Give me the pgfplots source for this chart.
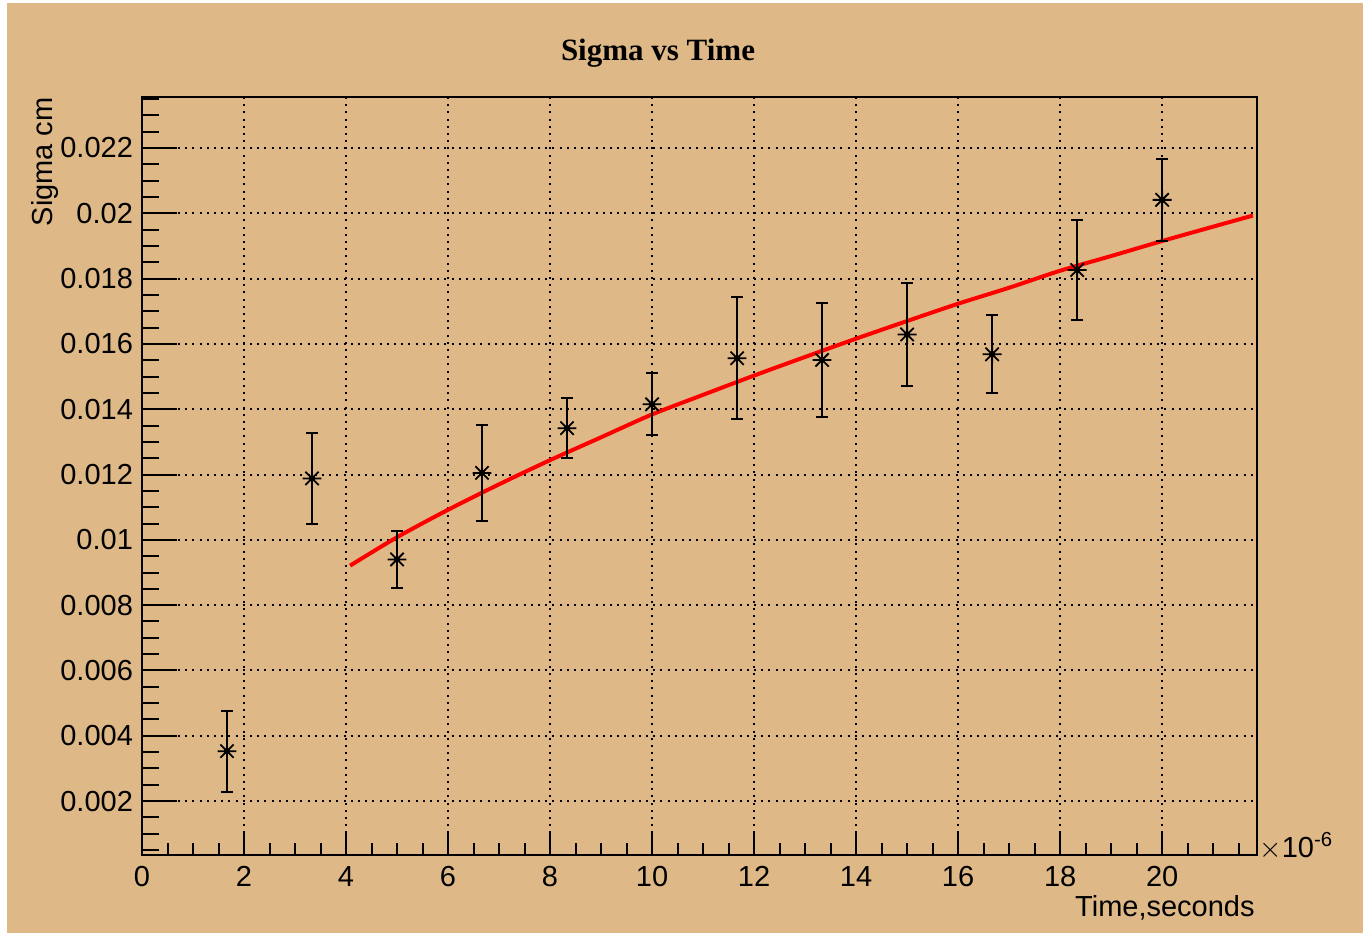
\documentclass[border=0pt]{standalone}
\usepackage{fontspec}
\setmainfont{Liberation Sans}
\newfontfamily\titlefont{Liberation Serif}
\usepackage{pgfplots}
\pgfplotsset{compat=1.18}

\definecolor{rootbg}{RGB}{222,185,135}

% eight-armed star with a filled centre, as in ROOT's marker style 3
\pgfdeclareplotmark{rootstar}{%
  \pgfpathmoveto{\pgfqpoint{-\pgfplotmarksize}{0pt}}%
  \pgfpathlineto{\pgfqpoint{\pgfplotmarksize}{0pt}}%
  \pgfpathmoveto{\pgfqpoint{0pt}{-\pgfplotmarksize}}%
  \pgfpathlineto{\pgfqpoint{0pt}{\pgfplotmarksize}}%
  \pgfpathmoveto{\pgfqpoint{-.707\pgfplotmarksize}{-.707\pgfplotmarksize}}%
  \pgfpathlineto{\pgfqpoint{.707\pgfplotmarksize}{.707\pgfplotmarksize}}%
  \pgfpathmoveto{\pgfqpoint{-.707\pgfplotmarksize}{.707\pgfplotmarksize}}%
  \pgfpathlineto{\pgfqpoint{.707\pgfplotmarksize}{-.707\pgfplotmarksize}}%
  \pgfusepathqstroke
  \pgfpathcircle{\pgfpointorigin}{.33\pgfplotmarksize}%
  \pgfusepathqfill
}

\newcommand{\lblfont}{\fontsize{14.5}{17}\selectfont}

\begin{document}
\begin{tikzpicture}
% canvas
\fill[white] (-71pt,-39pt) rectangle (610.5pt,427.5pt);
\fill[rootbg] (-67.5pt,-39pt) rectangle (610.5pt,426pt);

\begin{axis}[
  at={(0,0)}, anchor=south west,
  scale only axis, width=557.5pt, height=379pt,
  xmin=0, xmax=21.86, ymin=0.00035, ymax=0.02356,
  axis line style={line width=1pt},
  tick pos=left, tick align=inside,
  xtick={0,2,...,20},
  minor xtick={0,0.5,...,21.5},
  ytick={0.002,0.004,0.006,0.008,0.01,0.012,0.014,0.016,0.018,0.02,0.022},
  yticklabels={0.002,0.004,0.006,0.008,0.01,0.012,0.014,0.016,0.018,0.02,0.022},
  ytick style={draw=none}, minor ytick={},
  major tick length=11pt, minor tick length=6pt,
  xtick style={line width=1pt, black},
  minor x tick style={line width=1pt, black},
  grid=major,
  major grid style={black, line width=1pt, dash pattern=on 1pt off 2.6pt},
  scaled x ticks=false, scaled y ticks=false,
  /pgf/number format/assume math mode=true,
  ticklabel style={font=\lblfont},
  xticklabel style={yshift=-2pt},
  yticklabel style={xshift=-1pt},
  clip=false,
]
% red fitted curve
\addplot[red, line width=2pt, smooth] coordinates {
  (4.08,0.00921) (5,0.01008) (6,0.01092) (7,0.01170) (8,0.01244)
  (9,0.01314) (10,0.01384) (11,0.01444) (12,0.01503) (13,0.01560)
  (14,0.01616) (15,0.01670) (16,0.01723) (17,0.01772) (18,0.01824)
  (19,0.01869) (20,0.01915) (21,0.01959) (21.78,0.01993)
};
% measured sigma with errors
\addplot[black, only marks, mark=rootstar, mark size=4.7pt,
  mark options={line width=0.9pt},
  error bars/.cd, y dir=both, y explicit,
  error bar style={line width=1pt, black},
  error mark=-,
  error mark options={rotate=90, black, line width=1pt, mark size=3pt}]
  coordinates {
  (1.6667,0.00353) +- (0,0.00124)
  (3.3333,0.01188) +- (0,0.00139)
  (5.0000,0.00940) +- (0,0.00086)
  (6.6667,0.01205) +- (0,0.00148)
  (8.3333,0.01342) +- (0,0.00092)
  (10.000,0.01415) +- (0,0.00095)
  (11.6667,0.01556) +- (0,0.00187)
  (13.3333,0.01551) +- (0,0.00175)
  (15.000,0.01629) +- (0,0.00157)
  (16.6667,0.01568) +- (0,0.00119)
  (18.3333,0.01826) +- (0,0.00153)
  (20.000,0.02041) +- (0,0.00125)
};
\node[font={\titlefont\bfseries\fontsize{15.5}{18}\selectfont}] at (rel axis cs:0.4628,1) [yshift=22pt] {Sigma vs Time};
\path (rel axis cs:0,1) ++(-48.5pt,0pt) node[font=\lblfont, rotate=90, anchor=east, inner sep=0pt] {Sigma cm};
\path (rel axis cs:1,0) ++(-1pt,-26.5pt) node[font=\lblfont, anchor=east, inner sep=0pt] {Time,seconds};
\path (rel axis cs:1,0) ++(1pt,4.5pt) node[font=\lblfont, anchor=west, inner sep=0pt] {$\times$10\textsuperscript{-6}};
\end{axis}

% y-axis ticks, which are longer than the x-axis ones
\begin{axis}[
  at={(0,0)}, anchor=south west,
  scale only axis, width=557.5pt, height=379pt,
  xmin=0, xmax=21.86, ymin=0.00035, ymax=0.02356,
  axis line style={line width=1pt},
  tick pos=left, tick align=inside,
  xtick=\empty,
  ytick={0.002,0.004,0.006,0.008,0.01,0.012,0.014,0.016,0.018,0.02,0.022},
  minor ytick={0.0005,0.001,...,0.0235},
  yticklabels={}, scaled y ticks=false,
  major tick length=17.5pt, minor tick length=8.5pt,
  ytick style={line width=1pt, black},
  minor y tick style={line width=1pt, black},
]
\end{axis}
\end{tikzpicture}
\end{document}
